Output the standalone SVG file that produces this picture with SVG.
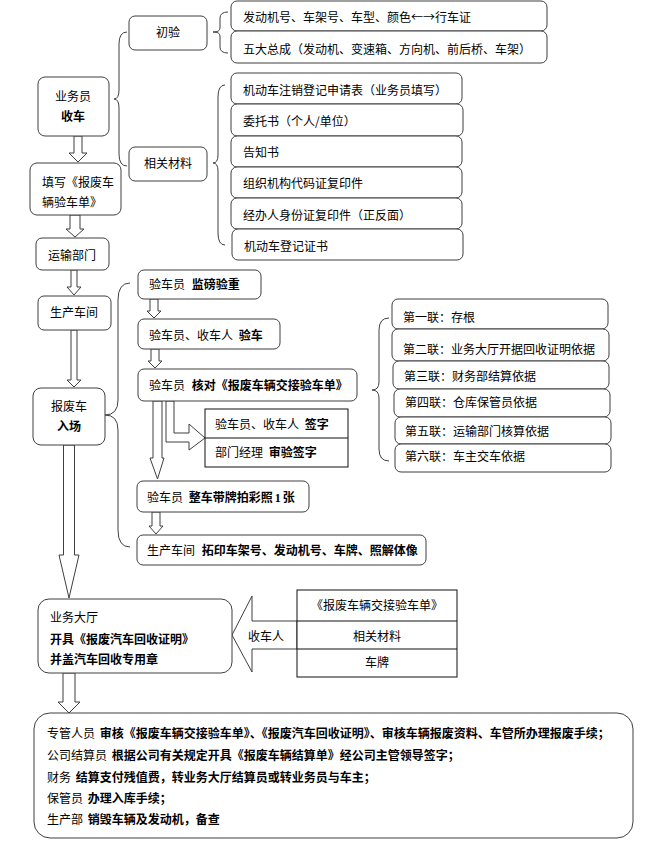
<svg xmlns="http://www.w3.org/2000/svg" width="647" height="850" viewBox="0 0 647 850">
<style>
.b{fill:#fff;stroke:#3f3f3f;stroke-width:1}
.sq{fill:#fff;stroke:#111;stroke-width:1}
.br{fill:none;stroke:#3f3f3f;stroke-width:1}
.ar{fill:#fff;stroke:#3f3f3f;stroke-width:1}
text{font-family:"Noto Sans CJK SC","Liberation Sans",sans-serif;font-size:12px;fill:#000}
.c{text-anchor:middle}
.k{font-weight:bold}
</style>
<rect width="647" height="850" fill="#fff"/>
<g id="connectors">
<path class="br" d="M127,32 Q119,32 119,44 L119,90 Q119,99 114,99 Q119,99 119,108 L119,154 Q119,166 127,166"/>
<path class="br" d="M228,12 Q220,12 220,18 L220,28 Q220,32 213,32 Q220,32 220,36 L220,47 Q220,53 228,53"/>
<path class="br" d="M225,85 Q218,85 218,97 L218,155 Q218,163 213,163 Q218,163 218,171 L218,233 Q218,245 225,245"/>
<path class="br" d="M130,283 Q118,283 118,300 L118,400 Q118,415 105,415 Q118,415 118,430 L118,530 Q118,547 130,547"/>
<path class="br" d="M389,318 Q379,318 379,330 L379,382 Q379,390 372,390 Q379,390 379,398 L379,449 Q379,461 389,461"/>
<polygon class="ar" points="74,136 82,136 82,153 87,153 78,162 69,153 74,153"/>
<polygon class="ar" points="70,215 80,215 80,229 84,229 75,237 66,229 70,229"/>
<polygon class="ar" points="71,270 77,270 77,287 81,287 74,295 67,287 71,287"/>
<polygon class="ar" points="71,330 77,330 77,380 81,380 74,387 67,380 71,380"/>
<polygon class="ar" points="63.5,445 74.5,445 74.5,555 79,555 69,598 59,555 63.5,555"/>
<polygon class="ar" points="63,673 75,673 75,702 80,702 69,713 58,702 63,702"/>
<polygon class="ar" points="150,299 158,299 158,311 161,311 154,318 147,311 150,311"/>
<polygon class="ar" points="151,349 159,349 159,361 162,361 155,368 148,361 151,361"/>
<polygon class="ar" points="153,401 162,401 162,458 164,458 157.5,479 150,458 153,458"/>
<polygon class="ar" points="152,512 160,512 160,526 163,526 156,534 149,526 152,526"/>
<polygon class="ar" points="166,401 166,442 189,442 189,450 205,438 189,424 189,433 174,433 174,401"/>
<polygon class="ar" points="297,621 252,621 252,596 232,635 252,672 252,649 297,649"/>
</g>
<g id="n-yewuyuan"><rect class="b" x="38" y="77" width="71" height="59" rx="7"/><text class="c" x="73" y="101">业务员</text><text class="c k" x="73" y="121">收车</text></g>
<g id="n-tianxie"><rect class="b" x="30" y="163" width="91" height="52" rx="7"/><text x="42" y="187">填写《报废车</text><text x="42" y="207">辆验车单》</text></g>
<g id="n-yunshu"><rect class="b" x="36" y="238" width="73" height="32" rx="6"/><text class="c" x="72" y="260">运输部门</text></g>
<g id="n-shengchan"><rect class="b" x="38" y="296" width="73" height="34" rx="6"/><text class="c" x="74" y="317">生产车间</text></g>
<g id="n-ruchang"><rect class="b" x="33" y="388" width="72" height="57" rx="8"/><text class="c" x="69" y="411">报废车</text><text class="c k" x="69" y="431">入场</text></g>
<g id="n-chuyan"><rect class="b" x="129" y="16" width="78" height="34" rx="6"/><text class="c" x="168" y="37">初验</text></g>
<g id="n-xiangguan"><rect class="b" x="129" y="147" width="78" height="34" rx="6"/><text class="c" x="168" y="168">相关材料</text></g>
<g id="n-chuyan-items">
<rect class="b" x="231" y="1" width="316" height="30" rx="6"/><text x="243" y="22">发动机号、车架号、车型、颜色←→行车证</text>
<rect class="b" x="231" y="31" width="316" height="32" rx="6"/><text x="243" y="54">五大总成（发动机、变速箱、方向机、前后桥、车架）</text>
</g>
<g id="n-materials">
<rect class="b" x="231" y="73" width="231" height="31" rx="6"/><text x="243" y="95">机动车注销登记申请表（业务员填写）</text>
<rect class="b" x="231" y="104" width="232" height="32" rx="6"/><text x="243" y="126">委托书（个人/单位）</text>
<rect class="b" x="231" y="136" width="231" height="31" rx="6"/><text x="243" y="157">告知书</text>
<rect class="b" x="231" y="167" width="231" height="31" rx="6"/><text x="243" y="188">组织机构代码证复印件</text>
<rect class="b" x="231" y="198" width="231" height="31" rx="6"/><text x="243" y="220">经办人身份证复印件（正反面）</text>
<rect class="b" x="232" y="229" width="231" height="31" rx="6"/><text x="244" y="251">机动车登记证书</text>
</g>
<g id="n-jianbang"><rect class="b" x="138" y="270" width="123" height="29" rx="6"/><text x="149" y="289">验车员 <tspan class="k" dx="4">监磅验重</tspan></text></g>
<g id="n-yanche"><rect class="b" x="138" y="319" width="142" height="30" rx="6"/><text x="149" y="340">验车员、收车人 <tspan class="k" dx="3">验车</tspan></text></g>
<g id="n-hedui"><rect class="b" x="138" y="369" width="219" height="32" rx="6"/><text x="149" y="390">验车员 <tspan class="k" dx="4">核对《报废车辆交接验车单》</tspan></text></g>
<g id="n-qianzi">
<rect class="sq" x="205" y="409" width="143" height="58"/><line x1="205" y1="438" x2="348" y2="438" stroke="#111"/>
<text x="215" y="429">验车员、收车人 <tspan class="k" dx="3">签字</tspan></text>
<text x="215" y="457">部门经理 <tspan class="k" dx="3">审验签字</tspan></text>
</g>
<g id="n-paizhao"><rect class="b" x="137" y="481" width="172" height="31" rx="6"/><text x="147" y="502">验车员 <tspan class="k" dx="3">整车带牌拍彩照<tspan font-family="Liberation Serif, serif" dx="2">1</tspan><tspan dx="2">张</tspan></tspan></text></g>
<g id="n-tayin"><rect class="b" x="137" y="535" width="289" height="30" rx="6"/><text x="147" y="555">生产车间 <tspan class="k" dx="4">拓印车架号、发动机号、车牌、照解体像</tspan></text></g>
<g id="n-lian">
<rect class="b" x="392" y="299" width="216" height="30" rx="6"/><text x="403" y="322">第一联：存根</text>
<rect class="b" x="392" y="329" width="217" height="32" rx="6"/><text x="403" y="354">第二联：业务大厅开据回收证明依据</text>
<rect class="b" x="393" y="361" width="216" height="28" rx="6"/><text x="404" y="381">第三联：财务部结算依据</text>
<rect class="b" x="394" y="389" width="216" height="28" rx="6"/><text x="405" y="407">第四联：仓库保管员依据</text>
<rect class="b" x="395" y="417" width="216" height="27" rx="6"/><text x="405" y="436">第五联：运输部门核算依据</text>
<rect class="b" x="395" y="444" width="216" height="28" rx="6"/><text x="405" y="461">第六联：车主交车依据</text>
</g>
<g id="n-dating"><rect class="b" x="38" y="599" width="194" height="74" rx="11"/>
<text x="50" y="622">业务大厅</text>
<text class="k" x="50" y="644">开具《报废汽车回收证明》</text>
<text class="k" x="50" y="664">并盖汽车回收专用章</text>
</g>
<g id="n-shoucheren"><text x="248" y="641">收车人</text></g>
<g id="n-table">
<rect class="sq" x="297" y="590" width="160" height="87"/>
<line x1="297" y1="621" x2="457" y2="621" stroke="#111"/><line x1="297" y1="649" x2="457" y2="649" stroke="#111"/>
<text class="c" x="377" y="610">《报废车辆交接验车单》</text>
<text class="c" x="377" y="641">相关材料</text>
<text class="c" x="377" y="667">车牌</text>
</g>
<g id="n-final"><rect class="b" x="34" y="713" width="599" height="125" rx="16"/>
<text x="47" y="738" font-size="11.6">专管人员 <tspan class="k" dx="2">审核《报废车辆交接验车单》、《报废汽车回收证明》、审核车辆报废资料、车管所办理报废手续；</tspan></text>
<text x="47" y="760">公司结算员 <tspan class="k" dx="2">根据公司有关规定开具《报废车辆结算单》经公司主管领导签字；</tspan></text>
<text x="47" y="782">财务 <tspan class="k" dx="2">结算支付残值费，转业务大厅结算员或转业务员与车主；</tspan></text>
<text x="47" y="803">保管员 <tspan class="k" dx="2">办理入库手续；</tspan></text>
<text x="47" y="824">生产部 <tspan class="k" dx="2">销毁车辆及发动机，备查</tspan></text>
</g>
</svg>
